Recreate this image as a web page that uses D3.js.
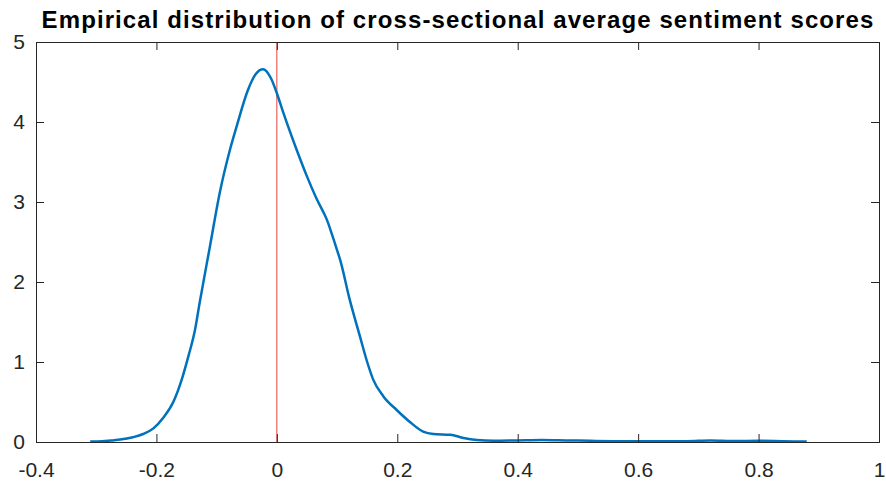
<!DOCTYPE html>
<html><head><meta charset="utf-8">
<script src="https://cdn.jsdelivr.net/npm/d3@7"></script>
<style>body{margin:0;background:#fff}svg{display:block}</style>
</head><body>
<svg id="c" width="886" height="483"></svg>
<script>
const titleText = "Empirical distribution of cross-sectional average sentiment scores";
const xTicks = [-0.4, -0.2, 0, 0.2, 0.4, 0.6, 0.8, 1];
const yTicks = [0, 1, 2, 3, 4, 5];
const xVals = [-0.310,-0.290,-0.275,-0.260,-0.239,-0.222,-0.205,-0.189,-0.172,-0.158,-0.147,-0.136,-0.128,-0.111,-0.095,-0.078,-0.067,-0.048,-0.035,-0.023,-0.010,0.000,0.011,0.033,0.050,0.066,0.083,0.099,0.105,0.121,0.138,0.150,0.160,0.177,0.199,0.221,0.243,0.260,0.288,0.310,0.332,0.36,0.40,0.44,0.48,0.52,0.56,0.60,0.64,0.68,0.72,0.76,0.80,0.84,0.88];
const density = [0.005,0.01,0.02,0.03,0.06,0.10,0.17,0.30,0.50,0.78,1.07,1.40,1.75,2.45,3.11,3.65,3.94,4.4,4.6,4.66,4.55,4.36,4.11,3.65,3.32,3.04,2.78,2.42,2.28,1.78,1.32,1.00,0.78,0.57,0.40,0.25,0.13,0.10,0.09,0.05,0.025,0.015,0.02,0.025,0.02,0.015,0.01,0.008,0.01,0.01,0.02,0.012,0.015,0.01,0.005];
const refX = 0;

const svg = d3.select("#c");
const L = 36, R = 879, T = 42, B = 442;
const x = d3.scaleLinear().domain([-0.4, 1]).range([L, R]);
const y = d3.scaleLinear().domain([0, 5]).range([B, T]);
const axisCol = "#262626";

svg.append("line").attr("x1", x(refX)).attr("x2", x(refX)).attr("y1", T).attr("y2", B)
  .attr("stroke", "#e8413c").attr("stroke-width", 1);

const pts = xVals.map((v, i) => [v, density[i]]);
svg.append("path").datum(pts)
  .attr("fill", "none").attr("stroke", "#0072BD").attr("stroke-width", 2.5)
  .attr("stroke-linejoin", "round")
  .attr("d", d3.line().x(d => x(d[0])).y(d => y(d[1])).curve(d3.curveMonotoneX));

const fmt = d => (d === 0 ? "0" : String(d));
const gBottom = svg.append("g").attr("transform", `translate(0,${B})`)
  .call(d3.axisBottom(x).tickValues(xTicks).tickSize(-8).tickPadding(20).tickFormat(fmt));
const gTop = svg.append("g").attr("transform", `translate(0,${T})`)
  .call(d3.axisTop(x).tickValues(xTicks).tickSize(-8).tickFormat(""));
const gLeft = svg.append("g").attr("transform", `translate(${L},0)`)
  .call(d3.axisLeft(y).tickValues(yTicks).tickSize(-8).tickPadding(11).tickFormat(d3.format("d")));
const gRight = svg.append("g").attr("transform", `translate(${R},0)`)
  .call(d3.axisRight(y).tickValues(yTicks).tickSize(-8).tickFormat(""));
[gBottom, gTop, gLeft, gRight].forEach(g => {
  g.select(".domain").attr("stroke", axisCol).attr("stroke-width", 1);
  g.selectAll(".tick line").attr("stroke", axisCol).attr("stroke-width", 1);
  g.selectAll("text").attr("fill", axisCol).style("font-family", "'Liberation Sans', Arial, sans-serif").style("font-size", "21px");
});
gBottom.selectAll("text").attr("dy", "0.71em");

svg.append("text").attr("x", 458).attr("y", 28)
  .attr("text-anchor", "middle")
  .style("font-family", "'Liberation Sans', Arial, sans-serif").style("font-weight", "bold")
  .style("font-size", "24px").style("letter-spacing", "1.1px").attr("fill", "#000").text(titleText);
</script>
</body></html>
